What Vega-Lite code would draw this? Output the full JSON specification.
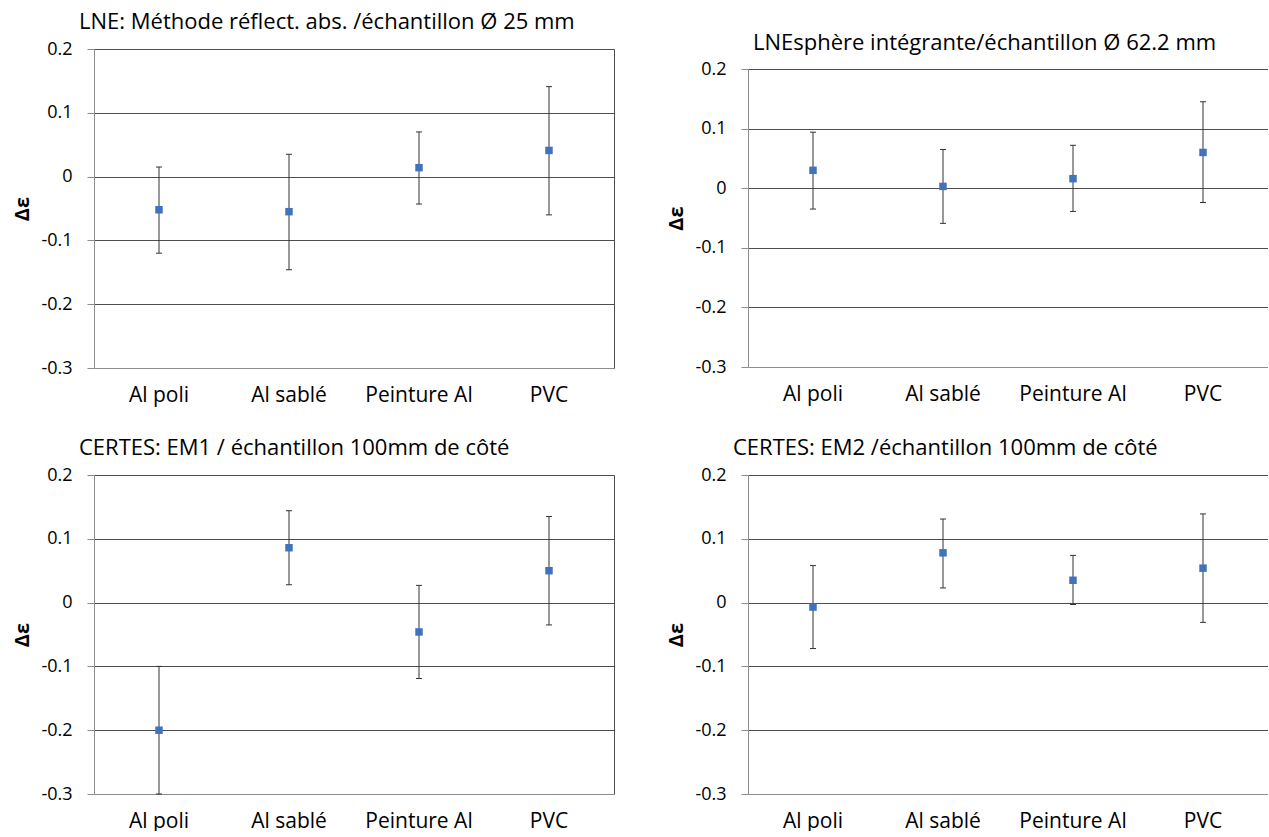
{
  "$schema": "https://vega.github.io/schema/vega-lite/v6.json",
  "padding": {"left": 12, "top": 11, "right": 0, "bottom": 0},
  "background": "white",
  "datasets": {
    "d": [
      {"panel": "TL", "cat": "Al poli", "val": -0.052, "lo": -0.120, "hi": 0.015},
      {"panel": "TL", "cat": "Al sablé", "val": -0.055, "lo": -0.146, "hi": 0.035},
      {"panel": "TL", "cat": "Peinture Al", "val": 0.014, "lo": -0.043, "hi": 0.070},
      {"panel": "TL", "cat": "PVC", "val": 0.041, "lo": -0.060, "hi": 0.141},
      {"panel": "TR", "cat": "Al poli", "val": 0.030, "lo": -0.035, "hi": 0.094},
      {"panel": "TR", "cat": "Al sablé", "val": 0.003, "lo": -0.059, "hi": 0.065},
      {"panel": "TR", "cat": "Peinture Al", "val": 0.016, "lo": -0.039, "hi": 0.072},
      {"panel": "TR", "cat": "PVC", "val": 0.060, "lo": -0.024, "hi": 0.145},
      {"panel": "BL", "cat": "Al poli", "val": -0.200, "lo": -0.300, "hi": -0.100},
      {"panel": "BL", "cat": "Al sablé", "val": 0.086, "lo": 0.028, "hi": 0.144},
      {"panel": "BL", "cat": "Peinture Al", "val": -0.046, "lo": -0.119, "hi": 0.027},
      {"panel": "BL", "cat": "PVC", "val": 0.050, "lo": -0.035, "hi": 0.135},
      {"panel": "BR", "cat": "Al poli", "val": -0.007, "lo": -0.072, "hi": 0.058},
      {"panel": "BR", "cat": "Al sablé", "val": 0.078, "lo": 0.023, "hi": 0.131},
      {"panel": "BR", "cat": "Peinture Al", "val": 0.035, "lo": -0.003, "hi": 0.074},
      {"panel": "BR", "cat": "PVC", "val": 0.054, "lo": -0.031, "hi": 0.139}
    ]
  },
  "columns": 2,
  "spacing": {"row": 107, "column": 134},
  "bounds": "flush",
  "concat": [
    {
      "width": 520, "height": 319,
      "title": {"text": "LNE: Méthode réflect.  abs. /échantillon Ø 25 mm", "dx": -15},
      "data": {"name": "d"},
      "transform": [{"filter": "datum.panel == 'TL'"}],
      "layer": [
        {"mark": {"type": "rule", "color": "#333333", "strokeWidth": 1},
         "encoding": {
           "x": {"field": "cat", "type": "nominal", "sort": ["Al poli", "Al sablé", "Peinture Al", "PVC"], "scale": {"type": "band", "paddingInner": 0, "paddingOuter": 0}, "axis": {"orient": "bottom", "title": null, "grid": false}},
           "y": {"field": "lo", "type": "quantitative", "scale": {"domain": [-0.3, 0.2], "nice": false, "zero": false}, "axis": {"orient": "left", "grid": false, "title": "Δε", "values": [-0.3, -0.2, -0.1, 0, 0.1, 0.2], "labelExpr": "datum.value == 0 ? '0' : (datum.value < 0 ? '-' + format(-datum.value, '.1f') : format(datum.value, '.1f'))"}},
           "y2": {"field": "hi"}
         }},
        {"mark": {"type": "tick", "size": 6, "thickness": 1, "color": "#333333", "opacity": 1},
         "encoding": {
           "x": {"field": "cat", "type": "nominal", "sort": ["Al poli", "Al sablé", "Peinture Al", "PVC"], "axis": null},
           "y": {"field": "lo", "type": "quantitative", "axis": null}
         }},
        {"mark": {"type": "tick", "size": 6, "thickness": 1, "color": "#333333", "opacity": 1},
         "encoding": {
           "x": {"field": "cat", "type": "nominal", "sort": ["Al poli", "Al sablé", "Peinture Al", "PVC"], "axis": null},
           "y": {"field": "hi", "type": "quantitative", "axis": null}
         }},
        {"mark": {"type": "square", "size": 56, "filled": true, "opacity": 1, "color": "#3f73bd"},
         "encoding": {
           "x": {"field": "cat", "type": "nominal", "sort": ["Al poli", "Al sablé", "Peinture Al", "PVC"], "axis": null},
           "y": {"field": "val", "type": "quantitative", "axis": {"orient": "right", "title": null, "grid": true, "labels": false, "ticks": false, "values": [-0.2, -0.1, 0, 0.1, 0.2]}}
         }}
      ],
      "resolve": {"axis": {"x": "independent", "y": "independent"}}
    },
    {
      "width": 520, "height": 318,
      "title": {"text": "LNEsphère intégrante/échantillon Ø 62.2 mm", "dx": 5, "offset": -6},
      "data": {"name": "d"},
      "transform": [{"filter": "datum.panel == 'TR'"}],
      "layer": [
        {"mark": {"type": "rule", "color": "#333333", "strokeWidth": 1},
         "encoding": {
           "x": {"field": "cat", "type": "nominal", "sort": ["Al poli", "Al sablé", "Peinture Al", "PVC"], "scale": {"type": "band", "paddingInner": 0, "paddingOuter": 0}, "axis": {"orient": "bottom", "title": null, "grid": false}},
           "y": {"field": "lo", "type": "quantitative", "scale": {"domain": [-0.3, 0.2], "nice": false, "zero": false, "range": [318, 20]}, "axis": {"orient": "left", "grid": false, "title": "Δε", "values": [-0.3, -0.2, -0.1, 0, 0.1, 0.2], "labelExpr": "datum.value == 0 ? '0' : (datum.value < 0 ? '-' + format(-datum.value, '.1f') : format(datum.value, '.1f'))"}},
           "y2": {"field": "hi"}
         }},
        {"mark": {"type": "tick", "size": 6, "thickness": 1, "color": "#333333", "opacity": 1},
         "encoding": {
           "x": {"field": "cat", "type": "nominal", "sort": ["Al poli", "Al sablé", "Peinture Al", "PVC"], "axis": null},
           "y": {"field": "lo", "type": "quantitative", "axis": null}
         }},
        {"mark": {"type": "tick", "size": 6, "thickness": 1, "color": "#333333", "opacity": 1},
         "encoding": {
           "x": {"field": "cat", "type": "nominal", "sort": ["Al poli", "Al sablé", "Peinture Al", "PVC"], "axis": null},
           "y": {"field": "hi", "type": "quantitative", "axis": null}
         }},
        {"mark": {"type": "square", "size": 56, "filled": true, "opacity": 1, "color": "#3f73bd"},
         "encoding": {
           "x": {"field": "cat", "type": "nominal", "sort": ["Al poli", "Al sablé", "Peinture Al", "PVC"], "axis": null},
           "y": {"field": "val", "type": "quantitative", "axis": {"orient": "right", "title": null, "grid": true, "labels": false, "ticks": false, "values": [-0.2, -0.1, 0, 0.1, 0.2]}}
         }}
      ],
      "resolve": {"axis": {"x": "independent", "y": "independent"}}
    },
    {
      "width": 520, "height": 319,
      "title": {"text": "CERTES: EM1 / échantillon  100mm de côté", "dx": -15},
      "data": {"name": "d"},
      "transform": [{"filter": "datum.panel == 'BL'"}],
      "layer": [
        {"mark": {"type": "rule", "color": "#333333", "strokeWidth": 1},
         "encoding": {
           "x": {"field": "cat", "type": "nominal", "sort": ["Al poli", "Al sablé", "Peinture Al", "PVC"], "scale": {"type": "band", "paddingInner": 0, "paddingOuter": 0}, "axis": {"orient": "bottom", "title": null, "grid": false}},
           "y": {"field": "lo", "type": "quantitative", "scale": {"domain": [-0.3, 0.2], "nice": false, "zero": false}, "axis": {"orient": "left", "grid": false, "title": "Δε", "values": [-0.3, -0.2, -0.1, 0, 0.1, 0.2], "labelExpr": "datum.value == 0 ? '0' : (datum.value < 0 ? '-' + format(-datum.value, '.1f') : format(datum.value, '.1f'))"}},
           "y2": {"field": "hi"}
         }},
        {"mark": {"type": "tick", "size": 6, "thickness": 1, "color": "#333333", "opacity": 1},
         "encoding": {
           "x": {"field": "cat", "type": "nominal", "sort": ["Al poli", "Al sablé", "Peinture Al", "PVC"], "axis": null},
           "y": {"field": "lo", "type": "quantitative", "axis": null}
         }},
        {"mark": {"type": "tick", "size": 6, "thickness": 1, "color": "#333333", "opacity": 1},
         "encoding": {
           "x": {"field": "cat", "type": "nominal", "sort": ["Al poli", "Al sablé", "Peinture Al", "PVC"], "axis": null},
           "y": {"field": "hi", "type": "quantitative", "axis": null}
         }},
        {"mark": {"type": "square", "size": 56, "filled": true, "opacity": 1, "color": "#3f73bd"},
         "encoding": {
           "x": {"field": "cat", "type": "nominal", "sort": ["Al poli", "Al sablé", "Peinture Al", "PVC"], "axis": null},
           "y": {"field": "val", "type": "quantitative", "axis": {"orient": "right", "title": null, "grid": true, "labels": false, "ticks": false, "values": [-0.2, -0.1, 0, 0.1, 0.2]}}
         }}
      ],
      "resolve": {"axis": {"x": "independent", "y": "independent"}}
    },
    {
      "width": 520, "height": 319,
      "title": {"text": "CERTES: EM2 /échantillon  100mm de côté", "dx": -15},
      "data": {"name": "d"},
      "transform": [{"filter": "datum.panel == 'BR'"}],
      "layer": [
        {"mark": {"type": "rule", "color": "#333333", "strokeWidth": 1},
         "encoding": {
           "x": {"field": "cat", "type": "nominal", "sort": ["Al poli", "Al sablé", "Peinture Al", "PVC"], "scale": {"type": "band", "paddingInner": 0, "paddingOuter": 0}, "axis": {"orient": "bottom", "title": null, "grid": false}},
           "y": {"field": "lo", "type": "quantitative", "scale": {"domain": [-0.3, 0.2], "nice": false, "zero": false}, "axis": {"orient": "left", "grid": false, "title": "Δε", "values": [-0.3, -0.2, -0.1, 0, 0.1, 0.2], "labelExpr": "datum.value == 0 ? '0' : (datum.value < 0 ? '-' + format(-datum.value, '.1f') : format(datum.value, '.1f'))"}},
           "y2": {"field": "hi"}
         }},
        {"mark": {"type": "tick", "size": 6, "thickness": 1, "color": "#333333", "opacity": 1},
         "encoding": {
           "x": {"field": "cat", "type": "nominal", "sort": ["Al poli", "Al sablé", "Peinture Al", "PVC"], "axis": null},
           "y": {"field": "lo", "type": "quantitative", "axis": null}
         }},
        {"mark": {"type": "tick", "size": 6, "thickness": 1, "color": "#333333", "opacity": 1},
         "encoding": {
           "x": {"field": "cat", "type": "nominal", "sort": ["Al poli", "Al sablé", "Peinture Al", "PVC"], "axis": null},
           "y": {"field": "hi", "type": "quantitative", "axis": null}
         }},
        {"mark": {"type": "square", "size": 56, "filled": true, "opacity": 1, "color": "#3f73bd"},
         "encoding": {
           "x": {"field": "cat", "type": "nominal", "sort": ["Al poli", "Al sablé", "Peinture Al", "PVC"], "axis": null},
           "y": {"field": "val", "type": "quantitative", "axis": {"orient": "right", "title": null, "grid": true, "labels": false, "ticks": false, "values": [-0.2, -0.1, 0, 0.1, 0.2]}}
         }}
      ],
      "resolve": {"axis": {"x": "independent", "y": "independent"}}
    }
  ],
  "config": {
    "view": {"stroke": null},
    "font": "Open Sans",
    "title": {"font": "Open Sans", "fontSize": 22, "fontWeight": "normal", "color": "#000000", "anchor": "start", "frame": "group", "baseline": "alphabetic", "offset": 6},
    "axis": {"labelColor": "#000000", "titleColor": "#000000", "labelFont": "Open Sans", "titleFont": "Open Sans", "domainWidth": 1, "gridWidth": 1},
    "axisLeft": {"tickSize": 7, "tickColor": "#8c8c8c", "domainColor": "#8c8c8c", "labelPadding": 15, "labelFontSize": 18, "titleFontSize": 20, "titleFontWeight": "bold", "titlePadding": 8},
    "axisRight": {"domainColor": "#4d4d4d", "gridColor": "#4d4d4d"},
    "axisBottom": {"ticks": false, "tickSize": 0, "labelPadding": 16, "labelFontSize": 21, "domainColor": "#8c8c8c", "labelAngle": 0}
  }
}
